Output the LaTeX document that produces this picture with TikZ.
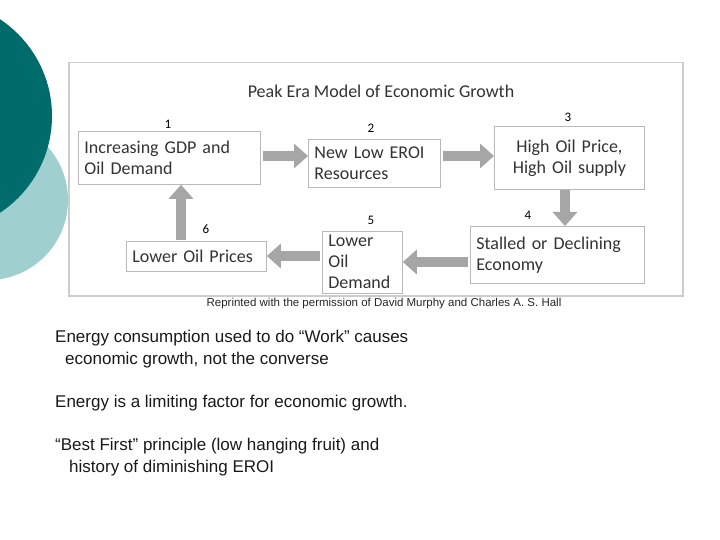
\documentclass[tikz,border=0pt]{standalone}
\usepackage{fontspec}
\setmainfont{Liberation Sans}
\newfontfamily\calfont{Carlito}
\usetikzlibrary{arrows.meta}
\definecolor{darkteal}{HTML}{006B6B}
\definecolor{lightteal}{HTML}{9FCFCF}
\definecolor{arrgray}{HTML}{A6A6A6}
\begin{document}
\begin{tikzpicture}[x=1pt,y=-1pt,
  bx/.style={draw=gray!55,fill=white,line width=0.8pt,inner xsep=6pt,inner ysep=4pt,anchor=north west,font=\calfont\fontsize{18}{21}\selectfont\color{black!80},align=left},
  num/.style={font=\calfont\fontsize{13}{15}\selectfont},
  blk/.style={draw=arrgray,line width=10pt,-{Triangle[width=24pt,length=14pt]}}]
\useasboundingbox (0,0) rectangle (720,540);
\fill[lightteal] (-12,200) circle (80);
\fill[darkteal] (-64,116) circle (116);
\node[draw=gray!40,fill=white,line width=1.5pt,minimum width=614,minimum height=233,anchor=north west] (frame) at (68,62) {};
\node[font=\calfont\fontsize{18}{21}\selectfont\color{black!80}] (title) at (381,91) {Peak Era Model of Economic Growth};
\node[bx,text width=170,minimum height=53] (b1) at (78,131) {Increasing GDP and\\Oil Demand};
\node[bx,text width=120,minimum height=48] (b2) at (308,139) {New Low EROI\\Resources};
\node[bx,text width=138,minimum height=63,align=center] (b3) at (494,126) {High Oil Price,\\High Oil supply};
\node[bx,text width=162,minimum height=57] (b4) at (470,226) {Stalled or Declining\\Economy};
\node[bx,text width=68,minimum height=52] (b5) at (322,231) {Lower Oil\\Demand};
\node[bx,text width=128,minimum height=30] (b6) at (126,241) {Lower Oil Prices};
\node[num] (n1) at (168,124) {1};
\node[num] (n2) at (371,128) {2};
\node[num] (n3) at (568,117) {3};
\node[num] (n4) at (528,215) {4};
\node[num] (n5) at (371,220) {5};
\node[num] (n6) at (206,229) {6};
\coordinate (a1) at (263,156); \coordinate (a2) at (440,156); \coordinate (a3) at (565,190);
\coordinate (a4) at (468,262); \coordinate (a5) at (320,256); \coordinate (a6) at (181,240);
\draw[blk] (a1) -- (a1 -| b2.west);
\draw[blk] ([xshift=3]a2) -- (a2 -| b3.west);
\draw[blk] (a3) -- (a3 |- b4.north);
\draw[blk] (a4) -- (a4 -| b5.east);
\draw[blk] (a5) -- (a5 -| b6.east);
\draw[blk] (a6) -- (a6 |- b1.south);
\node[font=\fontsize{11.5}{13}\selectfont\color{black!85}] (cap) at (384,304) {Reprinted with the permission of David Murphy and Charles A. S. Hall};
\node[anchor=north west,align=left,font=\fontsize{17}{21.5}\selectfont\color{black!90},inner sep=0] (t1) at (55,330) {Energy consumption used to do “Work” causes\\\hspace{10pt}economic growth, not the converse};
\node[anchor=north west,font=\fontsize{17}{21.5}\selectfont\color{black!90},inner sep=0] (t2) at (55,395) {Energy is a limiting factor for economic growth.};
\node[anchor=north west,align=left,font=\fontsize{17}{21.5}\selectfont\color{black!90},inner sep=0] (t3) at (55,438) {“Best First” principle (low hanging fruit) and\\\hspace{14pt}history of diminishing EROI};
\end{tikzpicture}
\end{document}
